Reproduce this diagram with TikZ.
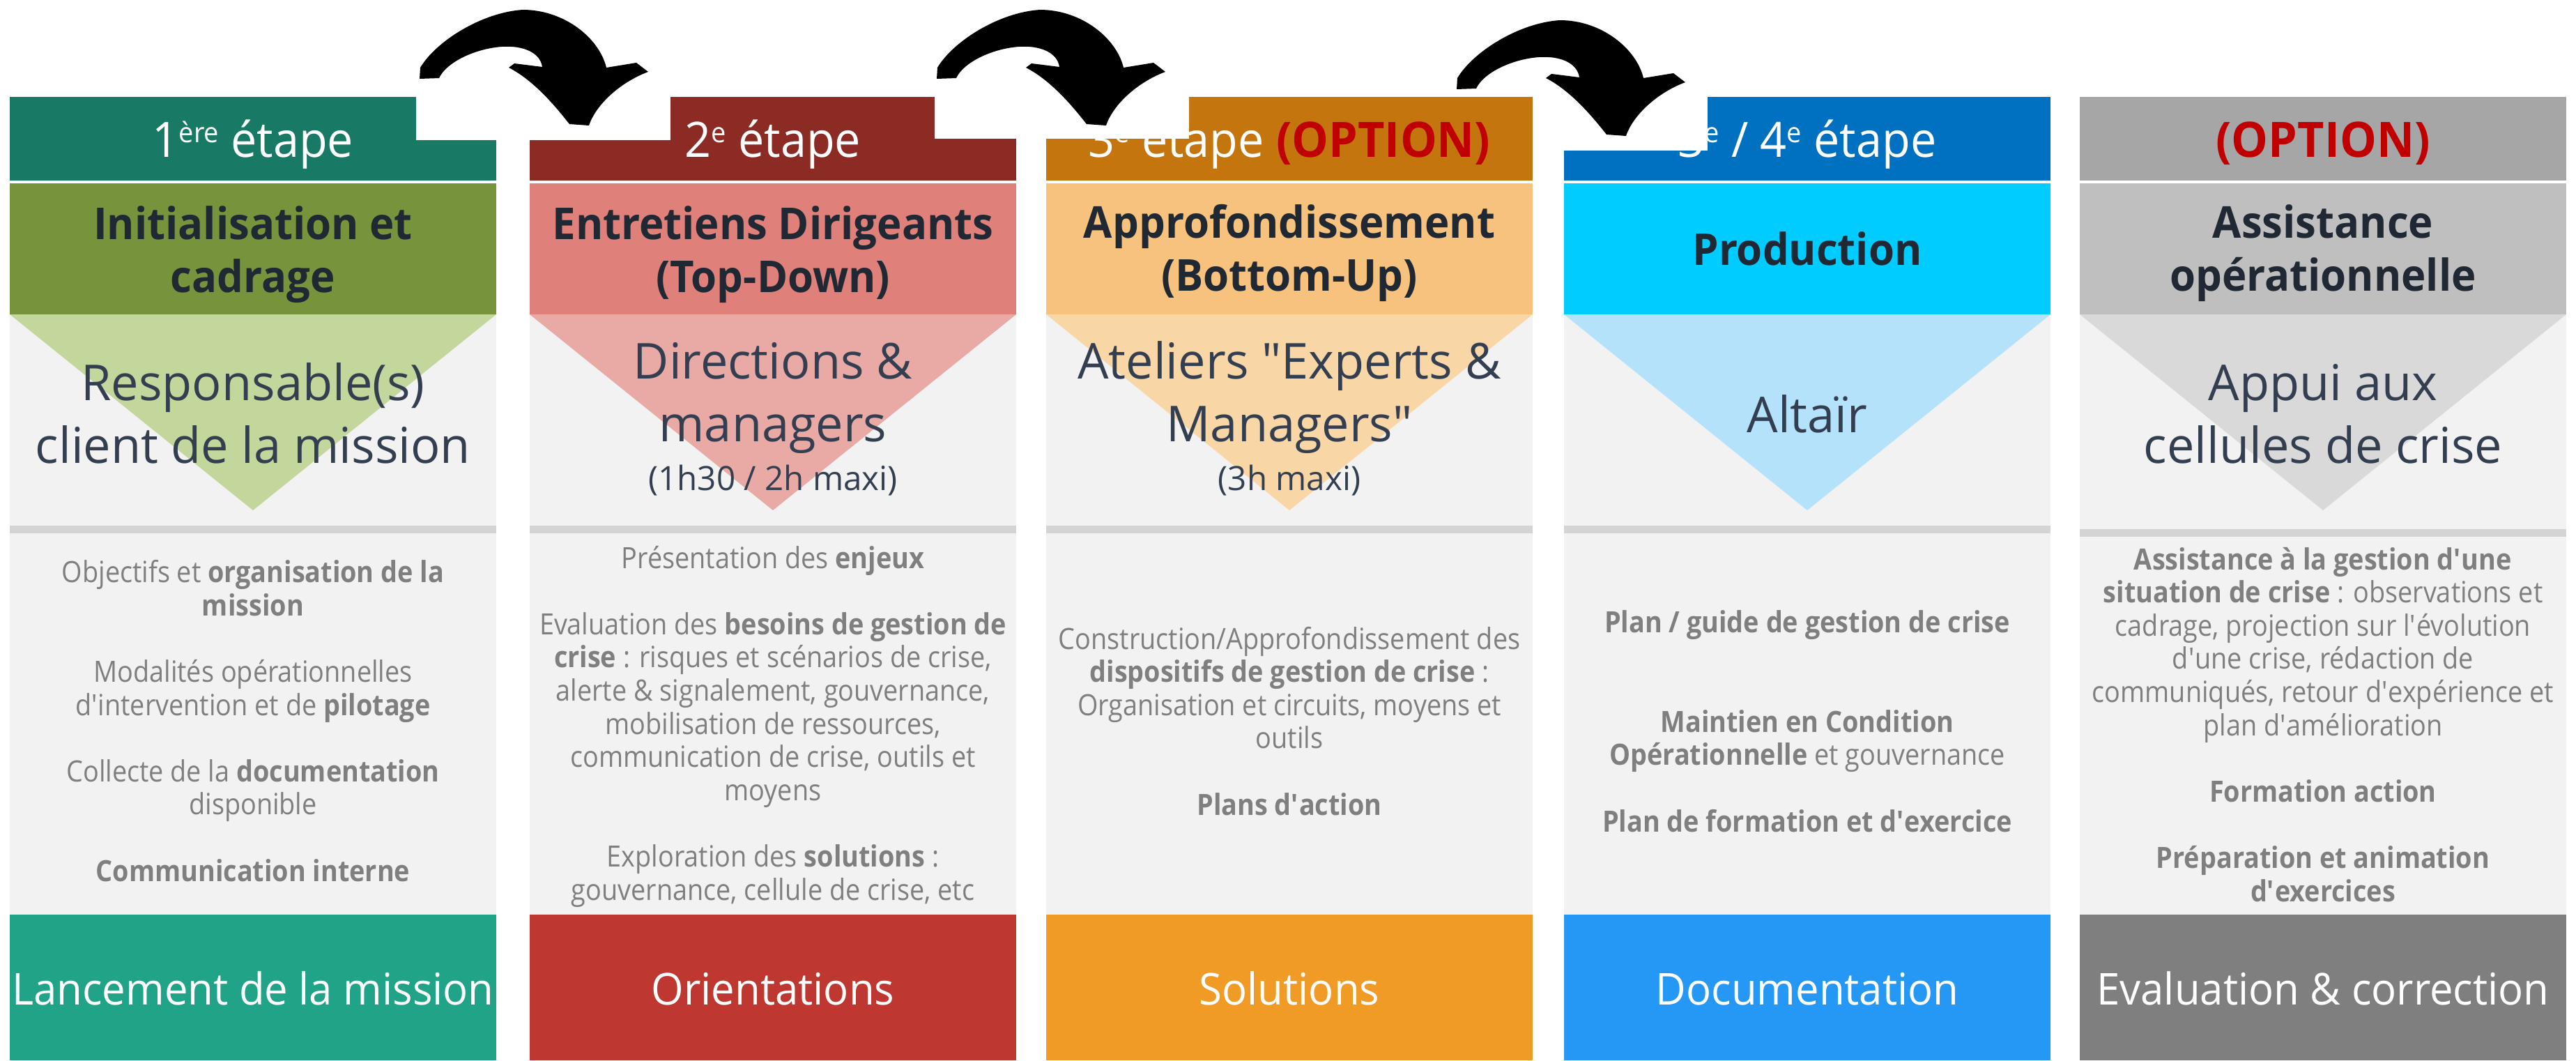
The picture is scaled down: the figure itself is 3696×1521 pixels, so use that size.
\documentclass[tikz,border=0pt]{standalone}
\usepackage{fontspec}
\setmainfont{Open Sans}[FakeStretch=0.9]
\newfontfamily\wideface{Open Sans}[FakeStretch=0.95]
\newfontfamily\triface{Open Sans}[FakeStretch=0.99]
\usetikzlibrary{positioning}
\definecolor{hdrA}{HTML}{187A64}
\definecolor{titA}{HTML}{77933C}
\definecolor{triA}{HTML}{C3D69B}
\definecolor{footA}{HTML}{20A386}
\definecolor{hdrB}{HTML}{8C2A24}
\definecolor{titB}{HTML}{E0807A}
\definecolor{triB}{HTML}{E9A9A5}
\definecolor{footB}{HTML}{BE3730}
\definecolor{hdrC}{HTML}{C4750E}
\definecolor{titC}{HTML}{F6C27D}
\definecolor{triC}{HTML}{F9D6A6}
\definecolor{footC}{HTML}{F19B27}
\definecolor{hdrD}{HTML}{0070C0}
\definecolor{titD}{HTML}{00CCFF}
\definecolor{triD}{HTML}{B4E2FA}
\definecolor{footD}{HTML}{2597F5}
\definecolor{hdrE}{HTML}{A6A6A6}
\definecolor{titE}{HTML}{BFBFBF}
\definecolor{triE}{HTML}{D9D9D9}
\definecolor{footE}{HTML}{7F7F7F}
\definecolor{bodybg}{HTML}{F2F2F2}
\definecolor{sepgray}{HTML}{D4D4D4}
\definecolor{titletext}{HTML}{1F2833}
\definecolor{tritext}{HTML}{333F50}
\definecolor{bodytext}{HTML}{7F7F7F}
\definecolor{optred}{HTML}{C00000}
\newcommand{\ap}{\textquotesingle}
\newcommand{\sups}[1]{\raisebox{21pt}{\fontsize{40}{40}\selectfont #1}}

\begin{document}
\begin{tikzpicture}[x=1pt, y=-1pt,
  hdrtxt/.style={text=white, font=\wideface\fontsize{70}{84}\selectfont, anchor=base, inner sep=0pt},
  titletxt/.style={text=titletext, font=\wideface\fontsize{63}{76}\bfseries, align=center, anchor=base, inner sep=0pt},
  tritxt/.style={text=tritext, font=\triface\fontsize{71}{90}\selectfont, align=center, anchor=base, inner sep=0pt},
  bodytxt/.style={text=bodytext, font=\fontsize{42}{47.6}\selectfont, align=center, anchor=base, inner sep=0pt},
  foottxt/.style={text=white, font=\wideface\fontsize{63}{76}\selectfont, anchor=base, inner sep=0pt},
  curvarrow/.pic={
    \fill[black] (602,113) -- (603,97) .. controls (625,60) and (690,18) .. (750,14)
      .. controls (810,14) and (860,55) .. (870,97) -- (913,90) -- (930,103)
      .. controls (890,118) and (855,150) .. (845,180) -- (817,178)
      .. controls (795,150) and (765,115) .. (730,97) -- (738,91) -- (778,96)
      .. controls (775,75) and (750,65) .. (720,67)
      .. controls (680,70) and (640,90) .. (630,112) -- cycle;
  }]
\useasboundingbox (0,0) rectangle (3696,1521);

\fill[hdrA] (14,139) rectangle (712,259);
\fill[titA] (14,263) rectangle (712,451);
\fill[bodybg] (14,451) rectangle (712,1312);
\fill[triA] (14,451) -- (712,451) -- (363,732) -- cycle;
\fill[sepgray] (14,754) rectangle (712,765);
\fill[footA] (14,1312) rectangle (712,1521);

\fill[hdrB] (760,139) rectangle (1458,259);
\fill[titB] (760,263) rectangle (1458,451);
\fill[bodybg] (760,451) rectangle (1458,1312);
\fill[triB] (760,451) -- (1458,451) -- (1109,732) -- cycle;
\fill[sepgray] (760,754) rectangle (1458,765);
\fill[footB] (760,1312) rectangle (1458,1521);

\fill[hdrC] (1501,139) rectangle (2199,259);
\fill[titC] (1501,263) rectangle (2199,451);
\fill[bodybg] (1501,451) rectangle (2199,1312);
\fill[triC] (1501,451) -- (2199,451) -- (1850,732) -- cycle;
\fill[sepgray] (1501,754) rectangle (2199,765);
\fill[footC] (1501,1312) rectangle (2199,1521);

\fill[hdrD] (2244,139) rectangle (2942,259);
\fill[titD] (2244,263) rectangle (2942,451);
\fill[bodybg] (2244,451) rectangle (2942,1312);
\fill[triD] (2244,451) -- (2942,451) -- (2593,732) -- cycle;
\fill[sepgray] (2244,754) rectangle (2942,765);
\fill[footD] (2244,1312) rectangle (2942,1521);

\fill[hdrE] (2984,139) rectangle (3682,259);
\fill[titE] (2984,263) rectangle (3682,451);
\fill[bodybg] (2984,451) rectangle (3682,1312);
\fill[triE] (2984,451) -- (3682,451) -- (3333,732) -- cycle;
\fill[sepgray] (2984,759) rectangle (3682,770);
\fill[footE] (2984,1312) rectangle (3682,1521);

\node[hdrtxt] (stepA) at (363,225) {1\sups{ère} étape};
\node[hdrtxt] (stepB) at (1109,225) {2\sups{e} étape};
\node[hdrtxt] (stepC) at (1850,225) {3\sups{e} étape \textcolor{optred}{\bfseries(OPTION)}};
\node[hdrtxt] (stepD) at (2593,225) {3\sups{e} / 4\sups{e} étape};
\node[hdrtxt] (stepE) at (3333,225) {\textcolor{optred}{\bfseries(OPTION)}};

\node[titletxt] (phaseA) at (363,419) {Initialisation et\\cadrage};
\node[titletxt] (phaseB) at (1109,419) {Entretiens Dirigeants\\(Top-Down)};
\node[titletxt] (phaseC) at (1850,417) {Approfondissement\\(Bottom-Up)};
\node[titletxt] (phaseD) at (2593,380) {Production};
\node[titletxt] (phaseE) at (3333,417) {Assistance\\opérationnelle};

\node[tritxt] (whoA) at (363,664) {Responsable(s)\\client de la mission};
\node[tritxt] (whoB) at (1109,703) {Directions \&\\managers\\[-20pt]{\fontsize{48}{58}\selectfont(1h30 / 2h maxi)}};
\node[tritxt] (whoC) at (1850,703) {Ateliers "Experts \&\\Managers"\\[-20pt]{\fontsize{48}{58}\selectfont(3h maxi)}};
\node[tritxt] (whoD) at (2593,620) {Altaïr};
\node[tritxt] (whoE) at (3333,664) {Appui aux\\cellules de crise};

\node[bodytxt] (taskA) at (363,1264) {Objectifs et \textbf{organisation de la}\\\textbf{mission}\\[47.6pt]Modalités opérationnelles\\d\ap intervention et de \textbf{pilotage}\\[47.6pt]Collecte de la \textbf{documentation}\\disponible\\[47.6pt]\textbf{Communication interne}};
\node[bodytxt] (taskB) at (1109,1291) {Présentation des \textbf{enjeux}\\[47.6pt]Evaluation des \textbf{besoins de gestion de}\\\textbf{crise} : risques et scénarios de crise,\\alerte \& signalement, gouvernance,\\mobilisation de ressources,\\communication de crise, outils et\\moyens\\[47.6pt]Exploration des \textbf{solutions} :\\gouvernance, cellule de crise, etc};
\node[bodytxt] (taskC) at (1850,1169) {Construction/Approfondissement des\\\textbf{dispositifs de gestion de crise} :\\Organisation et circuits, moyens et\\outils\\[47.6pt]\textbf{Plans d\ap action}};
\node[bodytxt] (taskD) at (2593,1193) {\textbf{Plan / guide de gestion de crise}\\[95.2pt]\textbf{Maintien en Condition}\\\textbf{Opérationnelle} et gouvernance\\[47.6pt]\textbf{Plan de formation et d\ap exercice}};
\node[bodytxt] (taskE) at (3333,1293) {\textbf{Assistance à la gestion d\ap une}\\\textbf{situation de crise} : observations et\\cadrage, projection sur l\ap évolution\\d\ap une crise, rédaction de\\communiqués, retour d\ap expérience et\\plan d\ap amélioration\\[47.6pt]\textbf{Formation action}\\[47.6pt]\textbf{Préparation et animation}\\\textbf{d\ap exercices}};

\node[foottxt] (outA) at (363,1441) {Lancement de la mission};
\node[foottxt] (outB) at (1109,1441) {Orientations};
\node[foottxt] (outC) at (1850,1441) {Solutions};
\node[foottxt] (outD) at (2593,1441) {Documentation};
\node[foottxt] (outE) at (3333,1441) {Evaluation \& correction};

\fill[white] (597,0) rectangle (962,201);
\fill[white] (1341,0) rectangle (1706,199);
\fill[white] (2205,0) rectangle (2450,216);
\pic (arrAB) at (0,0) {curvarrow};
\pic (arrBC) at (742,0) {curvarrow};
\pic (arrCD) at (1488,15) {curvarrow};
\end{tikzpicture}
\end{document}
